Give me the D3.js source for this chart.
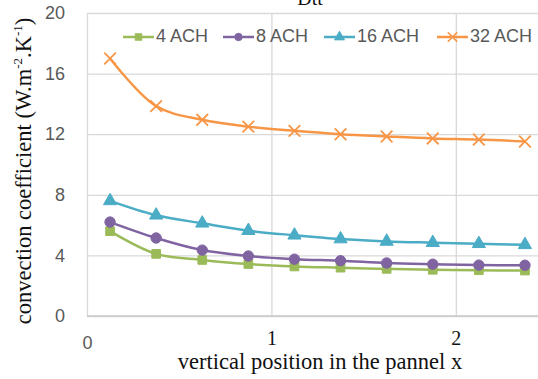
<!DOCTYPE html>
<html>
<head>
<meta charset="utf-8">
<script src="https://cdn.jsdelivr.net/npm/d3@7"></script>
<style>
  body { margin: 0; background: #fff; }
  svg { display: block; }
</style>
</head>
<body>
<script>
var xPos = [0.125, 0.375, 0.625, 0.875, 1.125, 1.375, 1.625, 1.875, 2.125, 2.375];
var ach4 = [5.6, 4.1, 3.7, 3.43, 3.27, 3.19, 3.11, 3.05, 3.02, 3.0];
var ach8 = [6.2, 5.15, 4.35, 3.96, 3.75, 3.65, 3.5, 3.42, 3.36, 3.35];
var ach16 = [7.6, 6.65, 6.12, 5.63, 5.33, 5.08, 4.92, 4.84, 4.77, 4.7];
var ach32 = [17.0, 13.85, 12.95, 12.5, 12.22, 12.0, 11.85, 11.72, 11.65, 11.52];
var seriesNames = ["4 ACH", "8 ACH", "16 ACH", "32 ACH"];
var yTicks = [0, 4, 8, 12, 16, 20];
var xTicks = [0, 1, 2];

var colors = ["#9bbb59", "#8064a2", "#4bacc6", "#f79646"];
var markers = [d3.symbolSquare, d3.symbolCircle, d3.symbolTriangle, d3.symbolX];
var allSeries = [ach4, ach8, ach16, ach32];

var W = 538, H = 379;
var svg = d3.select("body").append("svg").attr("width", W).attr("height", H);

var x = d3.scaleLinear().domain([0, 2.5]).range([87, 548]);
var y = d3.scaleLinear().domain([0, 20]).range([316, 13]);

// horizontal gridlines
svg.append("g")
   .attr("transform", "translate(87,0)")
   .call(d3.axisLeft(y).tickValues(yTicks).tickSize(-(W - 87)).tickFormat(""))
   .call(function(g){ g.select(".domain").remove(); })
   .selectAll("line").attr("stroke", "#d9d9d9").attr("stroke-width", 1.3);

// vertical gridlines
svg.append("g")
   .attr("transform", "translate(0,316)")
   .call(d3.axisBottom(x).tickValues(xTicks).tickSize(-303).tickFormat(""))
   .call(function(g){ g.select(".domain").remove(); })
   .selectAll("line").attr("stroke", "#d9d9d9").attr("stroke-width", 1.3);

// bottom axis line
svg.append("line")
   .attr("x1", 87).attr("x2", W)
   .attr("y1", y(0)).attr("y2", y(0))
   .attr("stroke", "#c8c8c8").attr("stroke-width", 1.5);

// y tick labels
var yAxis = svg.append("g")
   .attr("transform", "translate(65,0)")
   .call(d3.axisLeft(y).tickValues(yTicks).tickSize(0).tickPadding(0));
yAxis.select(".domain").remove();
yAxis.selectAll("text")
   .attr("font-family", "Liberation Sans, Arial, sans-serif")
   .attr("font-size", 18)
   .attr("fill", "#595959");

// x tick labels (0 in grey sans, 1 and 2 in black serif)
var xAxis = svg.append("g")
   .attr("transform", "translate(0,316)")
   .call(d3.axisBottom(x).tickValues(xTicks).tickSize(0).tickPadding(0).tickFormat(d3.format("d")));
xAxis.select(".domain").remove();
xAxis.selectAll("text")
   .attr("dy", null)
   .attr("dominant-baseline", "middle")
   .attr("y", function(d){ return d === 0 ? 28 : 24; })
   .attr("font-family", function(d){ return d === 0 ? "Liberation Sans, Arial, sans-serif" : "Liberation Serif, Times New Roman, serif"; })
   .attr("font-size", function(d){ return d === 0 ? 18 : 20; })
   .attr("fill", function(d){ return d === 0 ? "#595959" : "#111"; });

// series lines
var line = d3.line()
   .x(function(d){ return x(d[0]); })
   .y(function(d){ return y(d[1]); })
   .curve(d3.curveCatmullRom.alpha(0.5));

allSeries.forEach(function(vals, si){
  var pts = vals.map(function(v, i){ return [xPos[i], v]; });
  svg.append("path")
     .datum(pts)
     .attr("d", line)
     .attr("fill", "none")
     .attr("stroke", colors[si])
     .attr("stroke-width", 2.5);

  svg.selectAll("path.m" + si)
     .data(pts)
     .enter().append("path")
     .attr("class", "m" + si)
     .attr("transform", function(d){ return "translate(" + x(d[0]) + "," + y(d[1]) + ")"; })
     .attr("d", d3.symbol().type(markers[si]).size(si === 1 ? 85 : (si === 3 ? 90 : 75)))
     .attr("fill", si === 3 ? "none" : colors[si])
     .attr("stroke", colors[si])
     .attr("stroke-width", si === 3 ? 1.8 : 1);
});

// legend
var legendX = [123, 223, 324, 437];
var leg = svg.append("g");
seriesNames.forEach(function(name, si){
  var g = leg.append("g").attr("transform", "translate(" + legendX[si] + ",37)");
  g.append("line").attr("x1", 0).attr("x2", 31).attr("y1", 0).attr("y2", 0)
   .attr("stroke", colors[si]).attr("stroke-width", 2.5);
  g.append("path")
   .attr("transform", "translate(15.5,0)")
   .attr("d", d3.symbol().type(markers[si]).size(si === 3 ? 60 : 45))
   .attr("fill", si === 3 ? "none" : colors[si])
   .attr("stroke", colors[si])
   .attr("stroke-width", si === 3 ? 1.6 : 0.8);
  g.append("text").text(name)
   .attr("x", 33)
   .attr("y", 0)
   .attr("dominant-baseline", "middle")
   .attr("font-family", "Liberation Sans, Arial, sans-serif")
   .attr("font-size", 18)
   .attr("fill", "#595959");
});

// x axis title
svg.append("text").text("vertical position in the pannel x")
   .attr("x", 320)
   .attr("y", 369)
   .attr("text-anchor", "middle")
   .attr("font-family", "Liberation Serif, Times New Roman, serif")
   .attr("font-size", 22.5)
   .attr("fill", "#111");

// y axis title
var yt = svg.append("text")
   .attr("transform", "translate(31,171) rotate(-90)")
   .attr("text-anchor", "middle")
   .attr("font-family", "Liberation Serif, Times New Roman, serif")
   .attr("font-size", 22.5)
   .attr("fill", "#111");
yt.append("tspan").text("convection coefficient (W.m");
yt.append("tspan").text("-2").attr("font-size", 13).attr("dy", -9);
yt.append("tspan").text(".K").attr("dy", 9);
yt.append("tspan").text("-1").attr("font-size", 13).attr("dy", -9);
yt.append("tspan").text(")").attr("dy", 9);

// cropped title at top
svg.append("text").text("Dtt")
   .attr("x", 310)
   .attr("y", 5)
   .attr("text-anchor", "middle")
   .attr("font-family", "Liberation Serif, Times New Roman, serif")
   .attr("font-size", 20)
   .attr("fill", "#111");
</script>
</body>
</html>
